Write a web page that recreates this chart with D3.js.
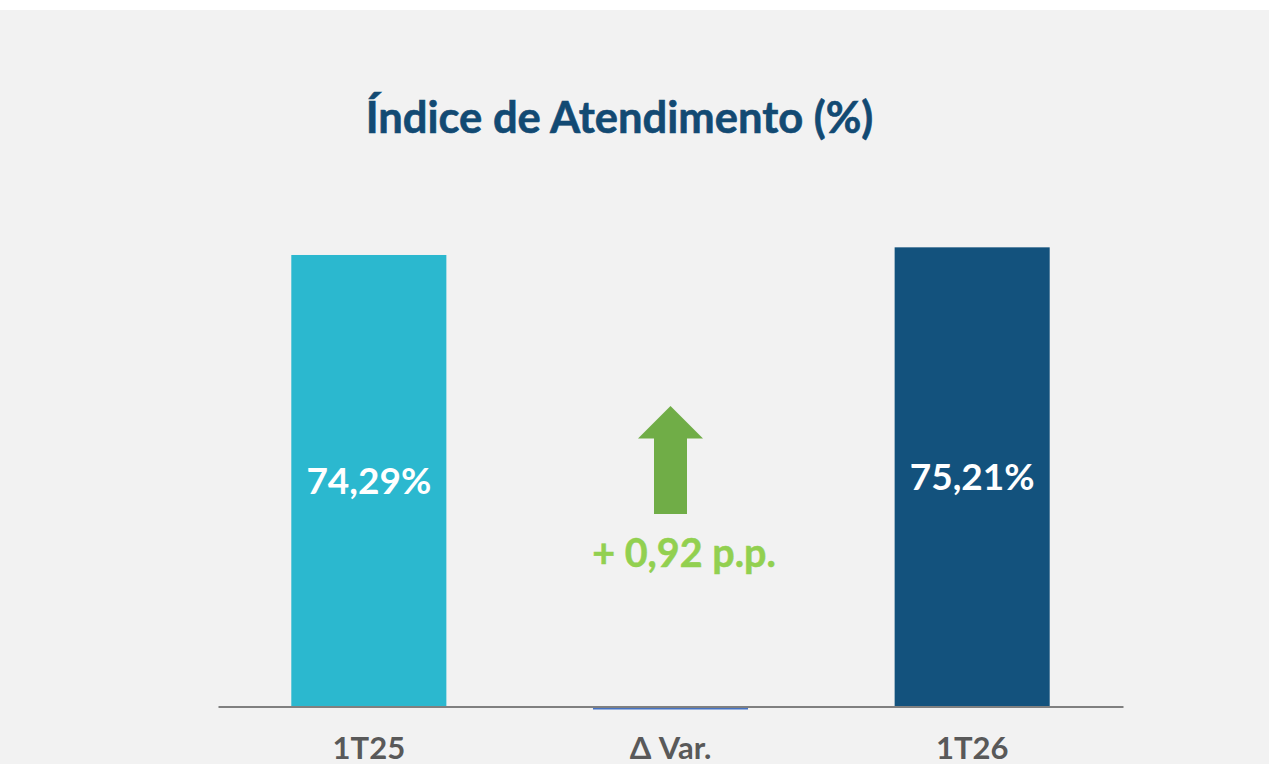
<!DOCTYPE html>
<html><head><meta charset="utf-8">
<script src="https://cdn.jsdelivr.net/npm/d3@7/dist/d3.min.js"></script>
<style>
html,body{margin:0;padding:0;background:#fff;}
svg{display:block;}
</style></head>
<body>
<svg id="chart" width="1269" height="764"></svg>
<script>
const title = "Índice de Atendimento (%)";
const categories = ["1T25", "Δ Var.", "1T26"];
const values = [74.29, 0.92, 75.21];
const valueLabels = ["74,29%", "", "75,21%"];
const deltaLabel = "+ 0,92 p.p.";
const barColors = ["#2bb8cf", "#4472c4", "#13527d"];
const yDomain = [20, 80];

const W = 1269, H = 764;
const svg = d3.select("#chart");
svg.append("rect").attr("x",0).attr("y",10).attr("width",W).attr("height",H-10).attr("fill","#f2f2f2");

const x = d3.scaleBand().domain(categories).range([218,1123]).paddingInner(0.486).paddingOuter(0.243);
const y = d3.scaleLinear().domain(yDomain).range([706.5, 207.5]).clamp(true);

svg.append("text").attr("x", 619.5).attr("y", 133)
  .attr("text-anchor","middle").attr("font-family","Lato").attr("font-weight","700")
  .attr("font-size", 43.5).attr("fill","#124a73")
  .attr("stroke","#124a73").attr("stroke-width",0.6).text(title);

const data = categories.map((c,i)=>({c, v:values[i], label:valueLabels[i], color:barColors[i]}));

// bars
svg.selectAll("rect.bar").data(data).enter().append("rect").attr("class","bar")
  .attr("x", d=>x(d.c)).attr("width", x.bandwidth())
  .attr("y", d=> d.v < yDomain[0] ? y(yDomain[0]) + 1 : y(d.v))
  .attr("height", d=> d.v < yDomain[0] ? 2 : y(yDomain[0]) - y(d.v))
  .attr("fill", d=>d.color);

// axis line
const axis = d3.axisBottom(x).tickSize(0).tickPadding(0);
const gx = svg.append("g").attr("transform", `translate(0,${y(yDomain[0])})`).call(axis);
gx.select(".domain").attr("stroke","#808080").attr("stroke-width",2);
gx.selectAll(".tick text").attr("dy", null).attr("y", 52)
  .attr("font-family","Lato").attr("font-weight","700").attr("font-size", 31).attr("fill","#595959");

// value labels
svg.selectAll("text.val").data(data.filter(d=>d.label)).enter().append("text").attr("class","val")
  .attr("x", d=>x(d.c)+x.bandwidth()/2)
  .attr("y", d=>(y(d.v)+y(yDomain[0]))/2)
  .attr("dy", "0.36em")
  .attr("text-anchor","middle").attr("font-family","Lato").attr("font-weight","700")
  .attr("font-size", 37).attr("fill","#ffffff").text(d=>d.label);

// arrow
const cx = x(categories[1]) + x.bandwidth()/2;
const arrow = d3.path();
arrow.moveTo(cx, 406);
arrow.lineTo(cx+32.5, 438.5);
arrow.lineTo(cx+16.5, 438.5);
arrow.lineTo(cx+16.5, 514);
arrow.lineTo(cx-16.5, 514);
arrow.lineTo(cx-16.5, 438.5);
arrow.lineTo(cx-32.5, 438.5);
arrow.closePath();
svg.append("path").attr("d", arrow.toString()).attr("fill","#70ad47");

svg.append("text").attr("x", cx+13.5).attr("y", 567)
  .attr("text-anchor","middle").attr("font-family","Lato").attr("font-weight","700")
  .attr("font-size", 39.5).attr("fill","#92d050")
  .attr("stroke","#92d050").attr("stroke-width",0.5).text(deltaLabel);
</script>
</body></html>
